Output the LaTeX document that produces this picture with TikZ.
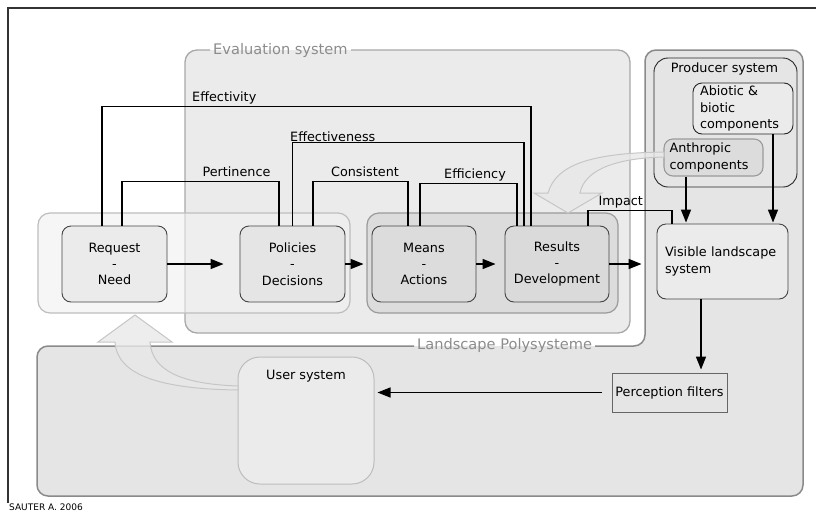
\documentclass[tikz,border=0pt]{standalone}
\usepackage{fontspec}
\setmainfont{DejaVu Sans}
\usetikzlibrary{arrows.meta}
\definecolor{landfill}{HTML}{E5E5E5}
\definecolor{landdraw}{HTML}{8A8A8A}
\definecolor{evalfill}{HTML}{EBEBEB}
\definecolor{evaldraw}{HTML}{A8A8A8}
\definecolor{lgfill}{HTML}{F0F0F0}
\definecolor{lgdraw}{HTML}{BDBDBD}
\definecolor{rgfill}{HTML}{DCDCDC}
\definecolor{rgdraw}{HTML}{9A9A9A}
\definecolor{graytext}{HTML}{8C8C8C}
\definecolor{boxdraw}{HTML}{444444}
\definecolor{hollowfill}{HTML}{E8E8E8}
\definecolor{hollowdraw}{HTML}{C6C6C6}
\tikzset{
  every node/.style={font=\fontsize{12.8}{16.3}\selectfont, inner sep=0pt},
  frameline/.style={draw=black!80, line width=1.1pt},
  ibox/.style={draw=boxdraw, line width=0.9pt, rounded corners=9pt, align=center},
  fb/.style={draw=black, line width=1.2pt},
  arr/.style={draw=black, line width=1.4pt, -{Triangle[length=13pt,width=10pt]}},
  hollow/.style={fill=hollowfill, draw=hollowdraw, line width=1pt, fill opacity=0.8},
  graylabel/.style={text=graytext, font=\fontsize{14.6}{17}\selectfont},
}
\begin{document}
\begin{tikzpicture}[x=1pt,y=-1pt]
\useasboundingbox (0,0) rectangle (816,512);
% outer frame
\draw[frameline] (8,503) -- (8,8) -- (816,8);
% landscape polysystem
\fill[landfill, rounded corners=11pt] (300,346) -- (645,346) -- (645,50) -- (803,50) -- (803,496) -- (37,496) -- (37,346) -- cycle;
\draw[landdraw, line width=1.5pt, rounded corners=11pt] (595,346) -- (645,346) -- (645,50) -- (803,50) -- (803,496) -- (37,496) -- (37,346) -- (414,346);
\node[graylabel, anchor=base west] (landlbl) at (417,349) {Landscape Polysysteme};
% evaluation system
\fill[evalfill, rounded corners=12pt] (185,50) rectangle (630,333);
\draw[evaldraw, line width=1.3pt, rounded corners=12pt] (351,50) -- (630,50) -- (630,333) -- (185,333) -- (185,50) -- (210,50);
\node[graylabel, anchor=base west] (evallbl) at (213,54) {Evaluation system};
% groups
\draw[lgdraw, fill=lgfill, fill opacity=0.6, line width=1.2pt, rounded corners=12pt] (38,213) rectangle (350,313);
\draw[rgdraw, fill=rgfill, line width=1.2pt, rounded corners=12pt] (367,213) rectangle (618,313);
% producer system
\node[draw=black!85, fill=landfill, line width=0.9pt, rounded corners=14pt, minimum width=143pt, minimum height=129pt] (prod) at (725.5,122.5) {};
\node[anchor=base] (prodlbl) at (724.5,72) {Producer system};
\node[draw=black!85, fill=evalfill, line width=0.9pt, rounded corners=9pt, minimum width=100pt, minimum height=51pt, text width=86pt, align=left] (abi) at (743,108.5) {Abiotic \&\\biotic\\components};
\node[draw=rgdraw, fill=rgfill, line width=1.1pt, rounded corners=9pt, minimum width=99pt, minimum height=37pt, text width=88pt, align=left] (anth) at (713.5,157.5) {Anthropic\\components};
% user system
\node[draw=lgdraw, fill=evalfill, line width=1pt, rounded corners=22pt, minimum width=136pt, minimum height=127pt] (user) at (306,420.5) {};
\node[anchor=base] (userlbl) at (306,379.5) {User system};
% perception filters
\node[draw=black!60, fill=landfill, line width=0.9pt, minimum width=115pt, minimum height=39pt] (perc) at (669.5,392.5) {Perception filters};
% hollow arrows
\path[hollow] (664,152) .. controls (590,153) and (556,165) .. (548,193) -- (534,193) -- (568,213) -- (602,193) -- (580,193) .. controls (585,168) and (620,158) .. (664,157) -- cycle;
\path[hollow] (238,390) .. controls (160,389) and (117,375) .. (115,342) -- (98,342) -- (135,315) -- (172,342) -- (150,342) .. controls (152,370) and (180,384) .. (238,386) -- cycle;
% main boxes
\node[ibox, fill=evalfill, minimum width=105pt, minimum height=76pt] (req) at (114.5,264) {Request\\-\\Need};
\node[ibox, fill=landfill, minimum width=105pt, minimum height=76pt] (pol) at (292.5,264) {Policies\\-\\Decisions};
\node[ibox, fill=rgfill, minimum width=104pt, minimum height=76pt] (means) at (424,264) {Means\\-\\Actions};
\node[ibox, fill=landfill!95!black, minimum width=104pt, minimum height=76pt] (res) at (557,264) {Results\\-\\Development};
\node[ibox, fill=evalfill, minimum width=131pt, minimum height=75pt, text width=115pt, align=left] (vis) at (722.5,261.5) {Visible landscape\\system};
% feedback lines
\draw[fb] ([xshift=-12.5pt]req.north) -- ++(0,-119) -| ([xshift=-26pt]res.north);
\draw[fb] ([xshift=7.5pt]req.north) -- ++(0,-44) -| ([xshift=-13.5pt]pol.north);
\draw[fb] (pol.north) -- ++(0,-83) -| ([xshift=-33pt]res.north);
\draw[fb] ([xshift=20.5pt]pol.north) -- ++(0,-44) -| ([xshift=-16pt]means.north);
\draw[fb] ([xshift=-4pt]means.north) -- ++(0,-42) -| ([xshift=-40pt]res.north);
\draw[fb] ([xshift=31pt]res.north) -- ++(0,-15) -| ([xshift=-50.5pt]vis.north);
\node[anchor=base west] (leffy) at (192,101.5) {Effectivity};
\node[anchor=base] (lpert) at (236.5,176.5) {Pertinence};
\node[anchor=base west] (leffs) at (290,141.5) {Effectiveness};
\node[anchor=base] (lcons) at (365,176.5) {Consistent};
\node[anchor=base] (leffc) at (475,178.5) {Efficiency};
\node[anchor=base west] (limp) at (598.5,205.5) {Impact};
% arrows
\draw[arr, shorten >=16pt] (req) -- (pol);
\draw[arr, shorten >=8pt] (pol) -- (means);
\draw[arr, shorten >=9pt] (means) -- (res);
\draw[arr, shorten >=15pt] (res.east) -- (res.east -| vis.west);
\draw[arr, shorten >=3pt] ([xshift=-21.5pt]vis.south) -- ([xshift=-21.5pt]vis.south |- perc.north);
\draw[arr, shorten <=10pt, shorten >=3pt] (perc.west) -- (perc.west -| user.east);
\draw[arr, shorten >=1pt] ([xshift=-27.5pt]anth.south) -- ([xshift=-27.5pt]anth.south |- vis.north);
\draw[arr, shorten >=1pt] ([xshift=30pt]abi.south) -- ([xshift=30pt]abi.south |- vis.north);
% credit
\node[anchor=base west, font=\fontsize{9}{10}\selectfont] (credit) at (9,510.5) {SAUTER A. 2006};
\end{tikzpicture}
\end{document}
